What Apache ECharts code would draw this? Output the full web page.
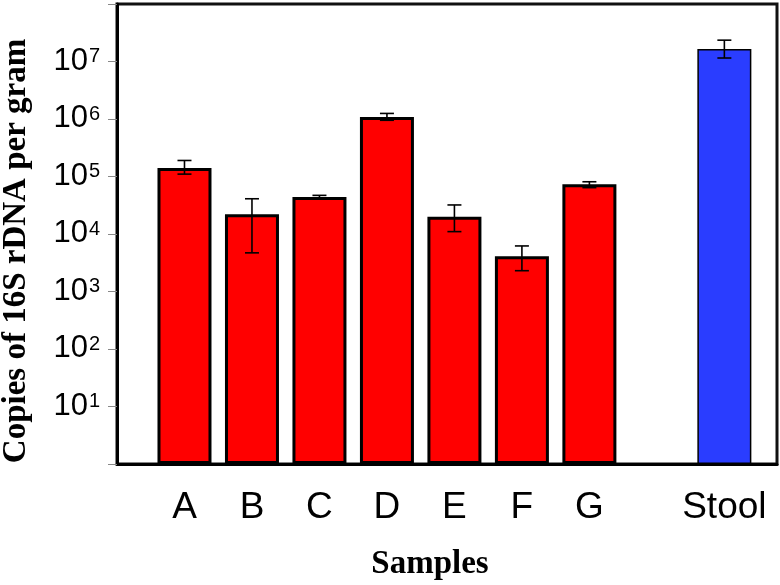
<!DOCTYPE html>
<html>
<head>
<meta charset="utf-8">
<script src="https://cdn.jsdelivr.net/npm/echarts@6/dist/echarts.min.js"></script>
<style>
html,body{margin:0;padding:0;background:#fff;}
#chart{width:780px;height:585px;}
</style>
</head>
<body>
<div id="chart"></div>
<script>
// Data
const categories = ['A', 'B', 'C', 'D', 'E', 'F', 'G', 'Stool'];
const values     = [1.4e5, 2.2e4, 4.4e4, 1.08e6, 2.0e4, 4.1e3, 7.3e4, 1.65e7];
const errLow     = [1.1e5, 4.7e3, 4.1e4, 9.5e5, 1.1e4, 2.3e3, 6.4e4, 1.15e7];
const errHigh    = [1.9e5, 4.1e4, 4.7e4, 1.25e6, 3.2e4, 6.2e3, 8.1e4, 2.35e7];
const yTickExponents = [1, 2, 3, 4, 5, 6, 7];
const yTitle = 'Copies of 16S rDNA per gram';
const xTitle = 'Samples';

// x slot of each category: consecutive, with one empty slot before 'Stool'
const slots = categories.map((c, i) => (c === 'Stool' ? i + 2 : i + 1));

const chart = echarts.init(document.getElementById('chart'), null, {renderer: 'canvas'});

const barData = categories.map((c, i) => ({
  value: [slots[i], values[i]],
  itemStyle: c === 'Stool'
    ? {color: '#2a3dff', borderColor: '#000', borderWidth: 1.5}
    : {color: '#ff0000', borderColor: '#000', borderWidth: 3}
}));
const errData = categories.map((c, i) => [slots[i], errLow[i], errHigh[i]]);

const slotLabel = {};
categories.forEach((c, i) => { slotLabel[slots[i]] = c; });

const option = {
  animation: false,
  backgroundColor: '#fff',
  grid: {
    left: 117, right: 3, top: 4, bottom: 121,
    show: true, borderColor: '#111', borderWidth: 3, backgroundColor: 'transparent'
  },
  xAxis: {
    type: 'value',
    min: 0, max: 9.78, interval: 1,
    splitLine: {show: false},
    axisLine: {show: true, lineStyle: {color: '#000', width: 3}},
    axisTick: {show: false},
    axisLabel: {
      show: true, margin: 25, showMaxLabel: false, showMinLabel: false,
      fontFamily: '"Liberation Sans", Arial, sans-serif', fontSize: 37, color: '#000',
      formatter: v => slotLabel[Math.round(v)] || ''
    }
  },
  yAxis: {
    type: 'log', logBase: 10, min: 1, max: 1e8,
    splitLine: {show: false},
    axisLine: {show: true, lineStyle: {color: '#000', width: 3}},
    axisTick: {show: true, inside: false, length: 9, lineStyle: {color: '#888', width: 1}},
    axisLabel: {
      margin: 17, color: '#000',
      formatter: v => {
        const e = Math.round(Math.log10(v));
        return yTickExponents.includes(e) ? '{b|10}{s|' + e + '}' : '';
      },
      rich: {
        b: {fontFamily: 'Liberation Sans, Arial, sans-serif', fontSize: 31, color: '#000', lineHeight: 30, verticalAlign: 'bottom'},
        s: {fontFamily: 'Liberation Sans, Arial, sans-serif', fontSize: 20, color: '#000', lineHeight: 20, verticalAlign: 'top', padding: [0, 0, 0, 1]}
      }
    }
  },
  graphic: [
    {
      type: 'text', rotation: Math.PI / 2,
      x: 16, y: 251,
      style: {
        text: yTitle, fill: '#000',
        font: 'bold 33px "Liberation Serif", "Times New Roman", serif',
        textAlign: 'center', textVerticalAlign: 'middle'
      }
    },
    {
      type: 'text', x: 430, y: 564,
      style: {
        text: xTitle, fill: '#000',
        font: 'bold 33px "Liberation Serif", "Times New Roman", serif',
        textAlign: 'center', textVerticalAlign: 'middle'
      }
    }
  ],
  series: [
    {
      type: 'bar',
      barWidth: 54,
      data: barData,
      z: 2
    },
    {
      type: 'custom',
      z: 3,
      data: errData,
      renderItem: (params, api) => {
        const x = api.value(0);
        const lo = api.coord([x, api.value(1)]);
        const hi = api.coord([x, api.value(2)]);
        const cap = 7;
        const st = {stroke: '#000', lineWidth: 1.6};
        return {
          type: 'group',
          children: [
            {type: 'line', shape: {x1: lo[0], y1: lo[1], x2: hi[0], y2: hi[1]}, style: st},
            {type: 'line', shape: {x1: hi[0] - cap, y1: hi[1], x2: hi[0] + cap, y2: hi[1]}, style: st},
            {type: 'line', shape: {x1: lo[0] - cap, y1: lo[1], x2: lo[0] + cap, y2: lo[1]}, style: st}
          ]
        };
      }
    }
  ]
};
chart.setOption(option);
</script>
</body>
</html>
